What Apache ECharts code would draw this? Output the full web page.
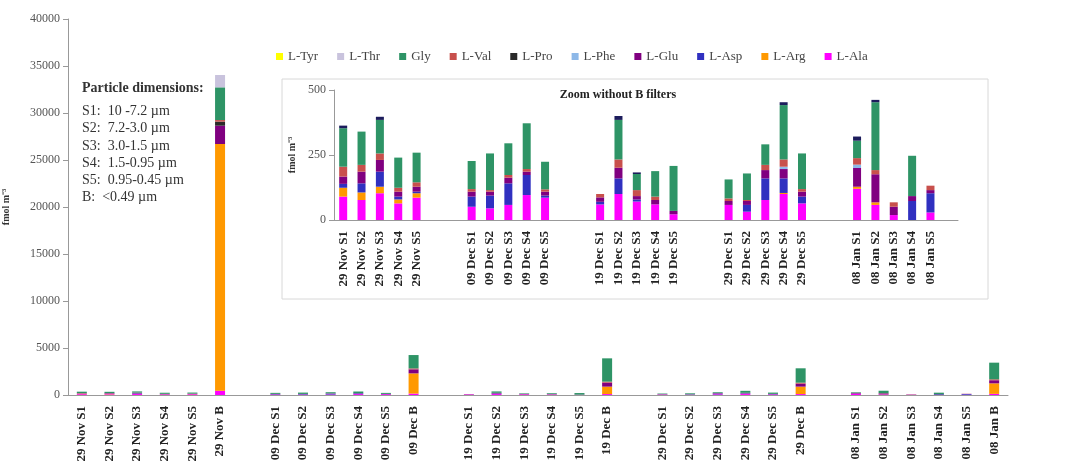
<!DOCTYPE html>
<html>
<head>
<meta charset="utf-8">
<script src="https://cdn.jsdelivr.net/npm/echarts@6/dist/echarts.min.js"></script>
<style>
  html, body { margin: 0; padding: 0; background: #fff; }
  #chart { width: 1072px; height: 468px; }
</style>
</head>
<body>
<div id="chart"></div>
<script>
// categories: 5 sampling days x (S1..S5, B) with an empty slot between days
const categories = [
  '29 Nov S1', '29 Nov S2', '29 Nov S3', '29 Nov S4', '29 Nov S5', '29 Nov B', '',
  '09 Dec S1', '09 Dec S2', '09 Dec S3', '09 Dec S4', '09 Dec S5', '09 Dec B', '',
  '19 Dec S1', '19 Dec S2', '19 Dec S3', '19 Dec S4', '19 Dec S5', '19 Dec B', '',
  '29 Dec S1', '29 Dec S2', '29 Dec S3', '29 Dec S4', '29 Dec S5', '29 Dec B', '',
  '08 Jan S1', '08 Jan S2', '08 Jan S3', '08 Jan S4', '08 Jan S5', '08 Jan B'
];

// fmol m-3, one value per category (null = empty slot)
const ala = [90, 77, 103, 64, 86, 460, null, 51, 45, 58, 96, 86, 150, null, 60, 100, 71, 60, 22, 100, null, 58, 32, 77, 100, 64, 100, null, 120, 58, 19, 0, 29, 120];
const arg = [34, 29, 25, 15, 17, 26240, null, 0, 0, 0, 0, 0, 2150, null, 0, 0, 0, 0, 0, 790, null, 0, 0, 0, 4, 0, 790, null, 8, 10, 0, 0, 0, 1120];
const asp = [15, 35, 58, 11, 6, 0, null, 39, 49, 83, 77, 8, 0, null, 10, 60, 8, 0, 0, 0, null, 0, 26, 83, 56, 26, 0, null, 0, 0, 0, 73, 74, 0];
const glu = [28, 45, 45, 19, 19, 1950, null, 19, 15, 22, 13, 15, 430, null, 17, 41, 13, 17, 13, 430, null, 15, 15, 32, 36, 19, 320, null, 72, 108, 32, 19, 12, 330];
const phe = [0, 0, 0, 0, 0, 0, null, 0, 0, 0, 0, 0, 0, null, 0, 0, 0, 0, 0, 0, null, 0, 0, 0, 9, 0, 0, null, 13, 0, 0, 0, 0, 0];
const pro = [0, 0, 0, 0, 0, 430, null, 0, 0, 0, 0, 0, 0, null, 0, 0, 0, 0, 0, 0, null, 0, 0, 0, 0, 0, 0, null, 0, 0, 0, 0, 0, 0];
const val = [38, 26, 25, 15, 17, 170, null, 10, 6, 10, 10, 9, 100, null, 13, 32, 23, 13, 0, 100, null, 10, 4, 20, 28, 10, 100, null, 25, 16, 17, 0, 17, 100];
const gly = [148, 128, 129, 116, 114, 3480, null, 108, 141, 122, 176, 106, 1420, null, 0, 152, 62, 98, 173, 2480, null, 73, 102, 79, 209, 137, 1530, null, 67, 261, 0, 155, 0, 1770];
const thr = [10, 0, 12, 0, 0, 1310, null, 0, 0, 0, 0, 0, 0, null, 0, 15, 6, 0, 0, 0, null, 0, 0, 0, 11, 0, 0, null, 16, 9, 0, 0, 0, 0];
const tyr = [0, 0, 0, 0, 0, 0, null, 0, 0, 0, 0, 0, 0, null, 0, 0, 0, 0, 0, 0, null, 0, 0, 0, 0, 0, 0, null, 0, 0, 0, 0, 0, 0];

const legendOrder = ['L-Tyr', 'L-Thr', 'Gly', 'L-Val', 'L-Pro', 'L-Phe', 'L-Glu', 'L-Asp', 'L-Arg', 'L-Ala'];

// stacked bottom -> top
const stackDefs = [
  { name: 'L-Ala', data: ala, color: '#FF00FF' },
  { name: 'L-Arg', data: arg, color: '#FF9900' },
  { name: 'L-Asp', data: asp, color: '#3030C0' },
  { name: 'L-Glu', data: glu, color: '#800080' },
  { name: 'L-Phe', data: phe, color: '#8DB8E8' },
  { name: 'L-Pro', data: pro, color: '#2A2A2A' },
  { name: 'L-Val', data: val, color: '#C8504C' },
  { name: 'Gly', data: gly, color: '#2E9466' },
  { name: 'L-Thr', data: thr, color: '#C9C3DD', insetColor: '#1C1C5C' },
  { name: 'L-Tyr', data: tyr, color: '#FFFF00' }
];

const isB = categories.map(c => c.endsWith(' B'));
const insetCategories = categories.map((c, i) => (isB[i] ? '' : c));

const serif = 'Liberation Serif';

const mainSeries = stackDefs.map(d => ({
  name: d.name,
  type: 'bar',
  stack: 'main',
  xAxisIndex: 0,
  yAxisIndex: 0,
  barWidth: 10,
  itemStyle: { color: d.color },
  data: d.data
}));

const insetSeries = stackDefs.map(d => ({
  name: d.name,
  type: 'bar',
  stack: 'inset',
  xAxisIndex: 1,
  yAxisIndex: 1,
  barWidth: 8,
  z: 5,
  itemStyle: { color: d.insetColor || d.color },
  data: d.data.map((v, i) => (isB[i] ? null : v))
}));

const chart = echarts.init(document.getElementById('chart'));
chart.setOption({
  backgroundColor: '#fff',
  animation: false,
  textStyle: { fontFamily: serif },
  legend: {
    data: legendOrder,
    left: 271,
    top: 45,
    icon: 'rect',
    itemWidth: 7,
    itemHeight: 7,
    itemGap: 19,
    textStyle: { fontFamily: serif, fontSize: 13, color: '#444' }
  },
  grid: [
    { left: 68, right: 64, top: 19, bottom: 73, outerBoundsMode: 'none' },
    { left: 334, right: 114, top: 90, bottom: 248, outerBoundsMode: 'none' }
  ],
  xAxis: [
    {
      type: 'category',
      gridIndex: 0,
      data: categories,
      axisLine: { lineStyle: { color: '#999' } },
      axisTick: { interval: 0, lineStyle: { color: '#999' } },
      axisLabel: { interval: 0, rotate: 90, fontFamily: serif, fontSize: 13, fontWeight: 'bold', color: '#222', margin: 11 }
    },
    {
      type: 'category',
      gridIndex: 1,
      data: insetCategories,
      axisLine: { lineStyle: { color: '#999' } },
      axisTick: { interval: 0, lineStyle: { color: '#aaa' } },
      axisLabel: { interval: 0, rotate: 90, fontFamily: serif, fontSize: 13, fontWeight: 'bold', color: '#222', margin: 11 }
    }
  ],
  yAxis: [
    {
      type: 'value',
      gridIndex: 0,
      min: 0,
      max: 40000,
      interval: 5000,
      name: 'fmol m⁻³',
      nameLocation: 'middle',
      nameGap: 57,
      nameTextStyle: { fontFamily: serif, fontSize: 10, fontWeight: 'bold', color: '#333' },
      axisLine: { show: true, lineStyle: { color: '#999' } },
      axisTick: { show: true, lineStyle: { color: '#999' } },
      splitLine: { show: false },
      axisLabel: { fontFamily: serif, fontSize: 12, color: '#555', margin: 8, formatter: v => String(v) }
    },
    {
      type: 'value',
      gridIndex: 1,
      min: 0,
      max: 500,
      interval: 250,
      name: 'fmol m⁻³',
      nameLocation: 'middle',
      nameGap: 32,
      nameTextStyle: { fontFamily: serif, fontSize: 10, fontWeight: 'bold', color: '#333' },
      axisLine: { show: true, lineStyle: { color: '#999' } },
      axisTick: { show: true, lineStyle: { color: '#999' } },
      splitLine: { show: false },
      axisLabel: { fontFamily: serif, fontSize: 12, color: '#555', margin: 8 }
    }
  ],
  graphic: [
    {
      type: 'rect',
      z: 0,
      shape: { x: 282, y: 79, width: 706, height: 220 },
      style: { fill: '#fff', stroke: '#d8d8d8', lineWidth: 1 }
    },
    {
      type: 'text',
      x: 618,
      y: 95,
      style: { text: 'Zoom without B filters', font: 'bold 12px "Liberation Serif"', fill: '#222', textAlign: 'center', textVerticalAlign: 'middle' }
    },
    {
      type: 'text',
      x: 82,
      y: 88,
      style: { text: 'Particle dimensions:', font: 'bold 14px "Liberation Serif"', fill: '#333', textVerticalAlign: 'middle' }
    },
    {
      type: 'text',
      x: 82,
      y: 103,
      style: {
        text: 'S1:  10 -7.2 µm\nS2:  7.2-3.0 µm\nS3:  3.0-1.5 µm\nS4:  1.5-0.95 µm\nS5:  0.95-0.45 µm\nB:  <0.49 µm',
        font: '14px "Liberation Serif"',
        lineHeight: 17.2,
        fill: '#333'
      }
    }
  ],
  series: mainSeries.concat(insetSeries)
});
</script>
</body>
</html>
